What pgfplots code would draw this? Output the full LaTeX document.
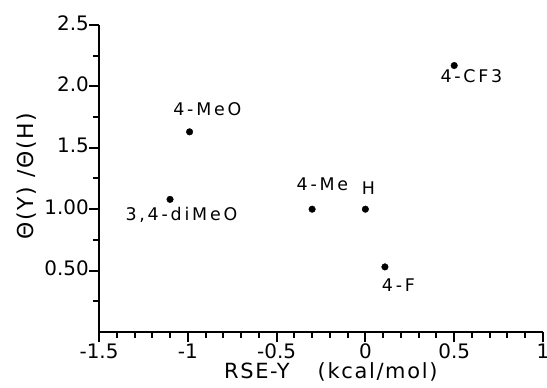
\documentclass[border=0pt]{standalone}
\usepackage{pgfplots}
\pgfplotsset{compat=1.18}
\usepackage{fontspec}
\setmainfont{DejaVu Sans}
\newfontfamily\lab{DejaVu Sans}[LetterSpace=16]
\newfontfamily\axlab{DejaVu Sans}[LetterSpace=8]
\begin{document}
\begin{tikzpicture}
\begin{axis}[
  at={(0,0)}, anchor=south west, scale only axis,
  width=444bp, height=307bp,
  xmin=-1.5, xmax=1, ymin=0, ymax=2.5,
  clip=false,
  axis x line*=bottom, axis y line*=left,
  axis line style={-, line width=2bp},
  tick align=outside,
  tick style={black, line width=2bp},
  major tick length=10bp, minor tick length=5.5bp,
  xtick={-1.5,-1,-0.5,0,0.5,1},
  xticklabels={-1.5,-1,-0.5,0,0.5,1},
  minor xtick={-1.4,-1.3,-1.2,-1.1,-0.9,-0.8,-0.7,-0.6,-0.4,-0.3,-0.2,-0.1,0.1,0.2,0.3,0.4,0.6,0.7,0.8,0.9},
  ytick={0.5,1,1.5,2,2.5},
  yticklabels={0.50,1.00,1.5,2.0,2.5},
  minor ytick={0.25,0.75,1.25,1.75,2.25},
  ticklabel style={font=\fontsize{20}{23}\selectfont},
  yticklabel style={anchor=east, inner xsep=0pt, yshift=2bp},
  xticklabel style={anchor=north, inner ysep=1.5bp},
]
\addplot[only marks, mark=*, mark size=3.3bp, black] coordinates {
  (0.5,2.17) (-0.3,1.0) (0,1.0) (0.11,0.53) (-0.99,1.63) (-1.1,1.08)
};
\node[font=\lab\fontsize{17.5}{20}\selectfont] at (axis cs:0.597,2.085) {4-CF3};
\node[font=\lab\fontsize{17.5}{20}\selectfont] at (axis cs:-0.242,1.205) {4-Me};
\node[font=\lab\fontsize{17.5}{20}\selectfont] at (axis cs:0.017,1.173) {H};
\node[font=\lab\fontsize{17.5}{20}\selectfont] at (axis cs:0.186,0.383) {4-F};
\node[font=\lab\fontsize{17.5}{20}\selectfont] at (axis cs:-0.890,1.816) {4-MeO};
\node[font=\lab\fontsize{17.5}{20}\selectfont] at (axis cs:-1.036,0.953) {3,4-diMeO};
\node[font=\axlab\fontsize{21}{25}\selectfont] at (rel axis cs:0.522,-0.130) {RSE-Y\hspace{28bp}(kcal/mol)};
\node[font=\axlab\fontsize{22}{26}\selectfont, rotate=90] at (rel axis cs:-0.164,0.508) {Θ(Y) /Θ(H)};
\end{axis}
\pgfresetboundingbox
\useasboundingbox (-99bp,-56bp) rectangle (448bp,332bp);
\end{tikzpicture}
\end{document}
